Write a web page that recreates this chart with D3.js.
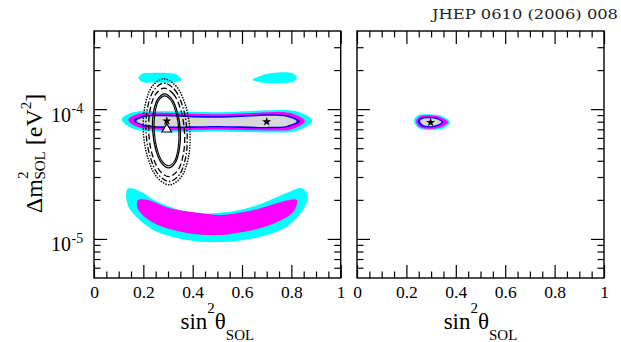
<!DOCTYPE html>
<html>
<head>
<meta charset="utf-8">
<script src="https://cdn.jsdelivr.net/npm/d3@7"></script>
<style>
  body { margin: 0; background: #fff; }
  svg { display: block; }
  text { font-family: "Liberation Serif", "Times New Roman", serif; fill: #000; }
</style>
</head>
<body>
<svg id="chart" width="621" height="342"></svg>
<script>
// ---- axis ticks ----
const xTickValues = [0, 0.2, 0.4, 0.6, 0.8, 1];
const xTickLabels = ["0", "0.2", "0.4", "0.6", "0.8", "1"];
const xMinorValues = [0.05, 0.1, 0.15, 0.25, 0.3, 0.35, 0.45, 0.5, 0.55, 0.65, 0.7, 0.75, 0.85, 0.9, 0.95];
const yMajorValues = [1e-5, 1e-4];
const yMajorExponents = ["-5", "-4"];
const yMinorValues = [6e-6, 7e-6, 8e-6, 9e-6, 2e-5, 3e-5, 4e-5, 5e-5, 6e-5, 7e-5, 8e-5, 9e-5, 2e-4, 3e-4];
const yDomain = [5e-6, 4e-4];

// Contours below are [sin²θ, Δm² in units of 1e-5 eV²]
const dm2Unit = 1e-5;

// Left panel: horizontal LMA band, four confidence levels (outer to inner)
const bandCyan = [[0.112,8.35],[0.16,9.45],[0.28,9.62],[0.40,9.53],[0.52,9.45],[0.62,9.62],[0.70,9.79],[0.82,9.62],[0.885,8.12],[0.82,6.80],[0.70,6.62],[0.60,6.68],[0.50,6.74],[0.40,6.68],[0.28,6.68],[0.16,7.05]];
const bandMagenta = [[0.139,8.27],[0.18,9.20],[0.28,9.37],[0.40,9.20],[0.52,9.12],[0.62,9.28],[0.70,9.45],[0.80,9.28],[0.855,8.05],[0.80,6.98],[0.70,6.86],[0.60,6.92],[0.50,6.98],[0.40,6.92],[0.28,6.92],[0.18,7.24]];
const bandBlue = [[0.159,8.20],[0.20,8.88],[0.28,9.04],[0.40,8.88],[0.52,8.80],[0.62,8.96],[0.70,9.12],[0.78,8.96],[0.835,8.05],[0.78,7.24],[0.70,7.11],[0.60,7.17],[0.50,7.24],[0.40,7.17],[0.28,7.17],[0.20,7.43]];
const bandGray = [[0.172,8.12],[0.20,8.64],[0.28,8.80],[0.40,8.64],[0.52,8.57],[0.62,8.72],[0.70,8.88],[0.78,8.72],[0.822,8.05],[0.78,7.43],[0.70,7.30],[0.60,7.37],[0.50,7.43],[0.40,7.37],[0.28,7.37],[0.20,7.63]];

// Left panel: upper islands
const islandLeft = [[0.180,17.34],[0.195,18.7],[0.22,18.95],[0.30,18.95],[0.335,18.39],[0.355,16.83],[0.33,16.1],[0.25,16.04],[0.195,16.2]];
const islandRight = [[0.643,16.83],[0.68,18.2],[0.72,18.95],[0.80,18.95],[0.822,17.6],[0.81,16.3],[0.76,15.87],[0.69,15.9]];

// Left panel: low-Δm² crescent
const crescentCyan = [[0.139,2.46],[0.20,2.26],[0.240,2.00],[0.376,1.62],[0.511,1.59],[0.646,1.78],[0.781,2.26],[0.842,2.46],[0.865,2.18],[0.855,1.78],[0.781,1.24],[0.646,1.01],[0.511,0.945],[0.376,0.98],[0.240,1.17],[0.159,1.57],[0.139,1.78],[0.130,2.18]];
const crescentMagenta = [[0.180,2.00],[0.214,2.00],[0.308,1.72],[0.443,1.57],[0.511,1.53],[0.646,1.67],[0.781,1.98],[0.822,2.00],[0.808,1.62],[0.713,1.28],[0.578,1.11],[0.511,1.07],[0.376,1.11],[0.240,1.33],[0.180,1.67],[0.174,1.85]];

// Left panel: line contours around sin²θ ≈ 0.3
const lineSolidA = [[0.286,13.12],[0.315,12.00],[0.338,9.45],[0.350,6.80],[0.346,4.90],[0.329,3.86],[0.302,3.53],[0.273,3.86],[0.250,4.90],[0.238,6.80],[0.241,9.45],[0.259,12.00]];
const lineSolidB = [[0.286,12.66],[0.312,11.65],[0.333,9.28],[0.344,6.80],[0.341,4.99],[0.326,3.97],[0.302,3.66],[0.276,3.97],[0.255,4.99],[0.244,6.80],[0.247,9.28],[0.262,11.65]];
const lineDashed = [[0.285,14.52],[0.322,13.07],[0.352,9.81],[0.367,6.62],[0.362,4.47],[0.339,3.36],[0.304,3.02],[0.266,3.36],[0.236,4.47],[0.222,6.62],[0.227,9.81],[0.250,13.07]];
const lineDashDot = [[0.283,15.87],[0.327,14.11],[0.361,10.25],[0.377,6.62],[0.372,4.28],[0.345,3.11],[0.305,2.77],[0.262,3.11],[0.228,4.28],[0.211,6.62],[0.217,10.25],[0.244,14.11]];
const lineDotted = [[0.283,17.13],[0.332,15.10],[0.371,10.70],[0.389,6.68],[0.382,4.17],[0.351,2.96],[0.306,2.61],[0.257,2.96],[0.219,4.17],[0.200,6.68],[0.207,10.70],[0.237,15.10]];

// Left panel markers
const bestFitStars = [[0.295, 8.1], [0.70, 8.0]];
const triangleMark = [[0.295, 7.0]];

// Right panel: combined allowed region
const combCyan = [[0.231,8.12],[0.247,8.96],[0.296,9.12],[0.344,8.80],[0.377,7.91],[0.352,7.17],[0.296,6.92],[0.251,7.11]];
const combMagenta = [[0.239,8.05],[0.255,8.80],[0.296,8.96],[0.340,8.64],[0.370,7.91],[0.344,7.30],[0.296,7.05],[0.255,7.24]];
const combBlue = [[0.247,8.05],[0.259,8.57],[0.296,8.72],[0.328,8.49],[0.350,7.91],[0.328,7.43],[0.296,7.24],[0.259,7.43]];
const combGray = [[0.255,8.05],[0.267,8.42],[0.296,8.52],[0.324,8.35],[0.342,7.91],[0.324,7.57],[0.296,7.39],[0.267,7.57]];
const combStars = [[0.298, 7.9]];

// ---- layout ----
const svg = d3.select("#chart");
const plotTop = 31, plotBottom = 278;
const y = d3.scaleLog().domain(yDomain).range([plotBottom, plotTop]);

const COL = { cyan: "#00ffff", magenta: "#ff00ff", blue: "#0000ff", gray: "#d8d8d8" };

function drawPanel(x0, x1, id, layers, lines, stars, triangles, yLabels) {
  const x = d3.scaleLinear().domain([0, 1]).range([x0, x1]);
  const shape = d3.line()
    .x(d => x(d[0]))
    .y(d => y(d[1] * dm2Unit))
    .curve(d3.curveCatmullRomClosed.alpha(0.5));

  svg.append("clipPath").attr("id", id)
    .append("rect").attr("x", x0).attr("y", plotTop)
    .attr("width", x1 - x0).attr("height", plotBottom - plotTop);

  const g = svg.append("g").attr("clip-path", `url(#${id})`);

  layers.forEach(([pts, color]) => {
    g.append("path").attr("d", shape(pts)).attr("fill", color).attr("stroke", "none");
  });

  lines.forEach(([pts, dash, w, cap]) => {
    g.append("path").attr("d", shape(pts))
      .attr("fill", "none").attr("stroke", "#000")
      .attr("stroke-width", w)
      .attr("stroke-linecap", cap || "butt")
      .attr("stroke-dasharray", dash);
  });

  const star = d3.symbol().type(d3.symbolStar).size(26);
  g.selectAll(null).data(stars).enter().append("path")
    .attr("d", star)
    .attr("transform", d => `translate(${x(d[0])},${y(d[1] * dm2Unit)})`)
    .attr("fill", "#000");

  const tri = d3.symbol().type(d3.symbolTriangle).size(40);
  g.selectAll(null).data(triangles).enter().append("path")
    .attr("d", tri)
    .attr("transform", d => `translate(${x(d[0])},${y(d[1] * dm2Unit)})`)
    .attr("fill", "#fff").attr("stroke", "#000").attr("stroke-width", 1.2);

  // ticks on all four sides, pointing inward
  const axes = svg.append("g").attr("color", "#000");
  const addAxis = (gen, tx, ty) => {
    const a = axes.append("g").attr("transform", `translate(${tx},${ty})`).call(gen);
    a.select(".domain").remove();
    a.selectAll(".tick line").attr("stroke-width", 1.2);
    return a;
  };
  const bottomAxis = addAxis(d3.axisBottom(x).tickValues(xTickValues).tickSize(-13).tickPadding(8)
    .tickFormat((d, i) => xTickLabels[i]), 0, plotBottom);
  bottomAxis.attr("font-family", null).attr("font-size", null);
  bottomAxis.selectAll("text").style("font-size", "17.5px");
  addAxis(d3.axisBottom(x).tickValues(xMinorValues).tickSize(-6.5).tickFormat(""), 0, plotBottom);
  addAxis(d3.axisTop(x).tickValues(xTickValues).tickSize(-13).tickFormat(""), 0, plotTop);
  addAxis(d3.axisTop(x).tickValues(xMinorValues).tickSize(-6.5).tickFormat(""), 0, plotTop);
  addAxis(d3.axisLeft(y).tickValues(yMajorValues).tickSize(-13).tickFormat(""), x0, 0);
  addAxis(d3.axisLeft(y).tickValues(yMinorValues).tickSize(-6.5).tickFormat(""), x0, 0);
  addAxis(d3.axisRight(y).tickValues(yMajorValues).tickSize(-13).tickFormat(""), x1, 0);
  addAxis(d3.axisRight(y).tickValues(yMinorValues).tickSize(-6.5).tickFormat(""), x1, 0);

  svg.append("rect").attr("x", x0).attr("y", plotTop)
    .attr("width", x1 - x0).attr("height", plotBottom - plotTop)
    .attr("fill", "none").attr("stroke", "#000").attr("stroke-width", 1.4);

  if (yLabels) {
    yMajorValues.forEach((v, i) => {
      svg.append("text").attr("x", x0 - 23).attr("y", y(v) + 12.5)
        .attr("text-anchor", "end").style("font-size", "20px").text("10");
      svg.append("text").attr("x", x0 - 22.5).attr("y", y(v) + 4)
        .attr("text-anchor", "start").style("font-size", "14px").text(yMajorExponents[i]);
    });
  }

  // x title: sin²θ_SOL
  const t = svg.append("text").attr("x", (x0 + x1) / 2).attr("y", 328.5)
    .attr("text-anchor", "middle").style("font-size", "23px");
  t.append("tspan").text("sin");
  t.append("tspan").attr("dy", -16).style("font-size", "15px").text("2");
  t.append("tspan").attr("dy", 16).text("θ");
  t.append("tspan").attr("dy", 11).style("font-size", "15px").text("SOL");
}

drawPanel(94, 340.7, "clipL",
  [[crescentCyan, COL.cyan], [crescentMagenta, COL.magenta],
   [islandLeft, COL.cyan], [islandRight, COL.cyan],
   [bandCyan, COL.cyan], [bandMagenta, COL.magenta], [bandBlue, COL.blue], [bandGray, COL.gray]],
  [[lineDotted, "0.1,2.6", 1.6, "round"],
   [lineDashDot, "6,2,1.5,2", 1.3],
   [lineDashed, "6,3", 1.3],
   [lineSolidA, null, 1.3],
   [lineSolidB, null, 1.1]],
  bestFitStars, triangleMark, true);

drawPanel(357, 604, "clipR",
  [[combCyan, COL.cyan], [combMagenta, COL.magenta], [combBlue, COL.blue], [combGray, COL.gray]],
  [], combStars, [], false);

// y title: Δm²_SOL [eV²]
const yt = svg.append("text")
  .attr("transform", "translate(42,153.5) rotate(-90)")
  .attr("text-anchor", "middle").style("font-size", "24px");
yt.append("tspan").text("Δm");
yt.append("tspan").attr("dy", -14).style("font-size", "15px").text("2");
yt.append("tspan").attr("dx", -8).attr("dy", 17).style("font-size", "15px").text("SOL");
yt.append("tspan").attr("dy", -3).text(" [eV");
yt.append("tspan").attr("dy", -11).style("font-size", "15px").text("2");
yt.append("tspan").attr("dy", 11).text("]");

// journal header
svg.append("text").attr("x", 432).attr("y", 19)
  .attr("textLength", 186).attr("lengthAdjust", "spacingAndGlyphs")
  .style("font-family", "'DejaVu Serif', serif").style("font-size", "13.5px").style("fill", "#222")
  .text("JHEP 0610 (2006) 008");
</script>
</body>
</html>
